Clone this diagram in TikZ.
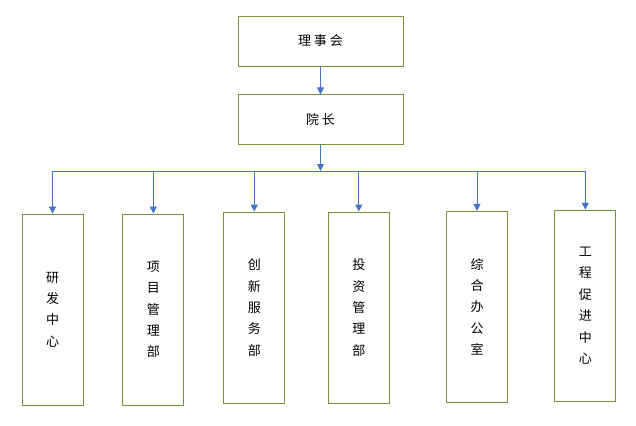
\documentclass[tikz,border=0pt]{standalone}
\usepackage{fontspec}
\newfontfamily\cjk{Noto Sans CJK SC}
\definecolor{OrgGreen}{HTML}{77933C}
\definecolor{OrgBlue}{HTML}{4472C4}
\usetikzlibrary{positioning,arrows.meta}

\begin{document}
\begin{tikzpicture}[x=1pt, y=-1pt,
    head/.style={draw=OrgGreen, line width=0.9pt, minimum width=165pt, minimum height=50pt, font={\cjk\fontsize{13}{16}\selectfont}},
    dept/.style={draw=OrgGreen, line width=0.9pt, minimum width=61pt, minimum height=191pt, align=center, font={\cjk\fontsize{13}{21.4}\selectfont}},
    link/.style={draw=OrgBlue, line width=1pt, -{Triangle[width=7pt,length=7pt]}}]
    \useasboundingbox (0,0) rectangle (636,425);
    % top of the chart
    \node[head] (board) at (320.5,41) {理\hspace{3pt}事\hspace{3pt}会};
    \node[head, below=28pt of board] (dean) {院\hspace{3pt}长};
    % departments
    \node[dept] (d1) at (52.5,309.5) {研\\发\\中\\心};
    \node[dept] (d2) at (153.3,309.5) {项\\目\\管\\理\\部};
    \node[dept] (d3) at (254.3,307.5) {创\\新\\服\\务\\部};
    \node[dept] (d4) at (358.8,307.5) {投\\资\\管\\理\\部};
    \node[dept] (d5) at (477,306.8) {综\\合\\办\\公\\室};
    \node[dept] (d6) at (585.3,305.7) {工\\程\\促\\进\\中\\心};
    % connectors
    \coordinate (bus) at (320.5,171);
    \draw[link] (board) -- (dean);
    \draw[link] (dean) -- (bus);
    \draw[draw=OrgBlue, line width=1pt] (d1.north |- bus) -- (d6.north |- bus);
    \foreach \d in {d1,d2,d3,d4,d5,d6}
        \draw[link] (\d.north |- bus) -- (\d.north);
\end{tikzpicture}
\end{document}
